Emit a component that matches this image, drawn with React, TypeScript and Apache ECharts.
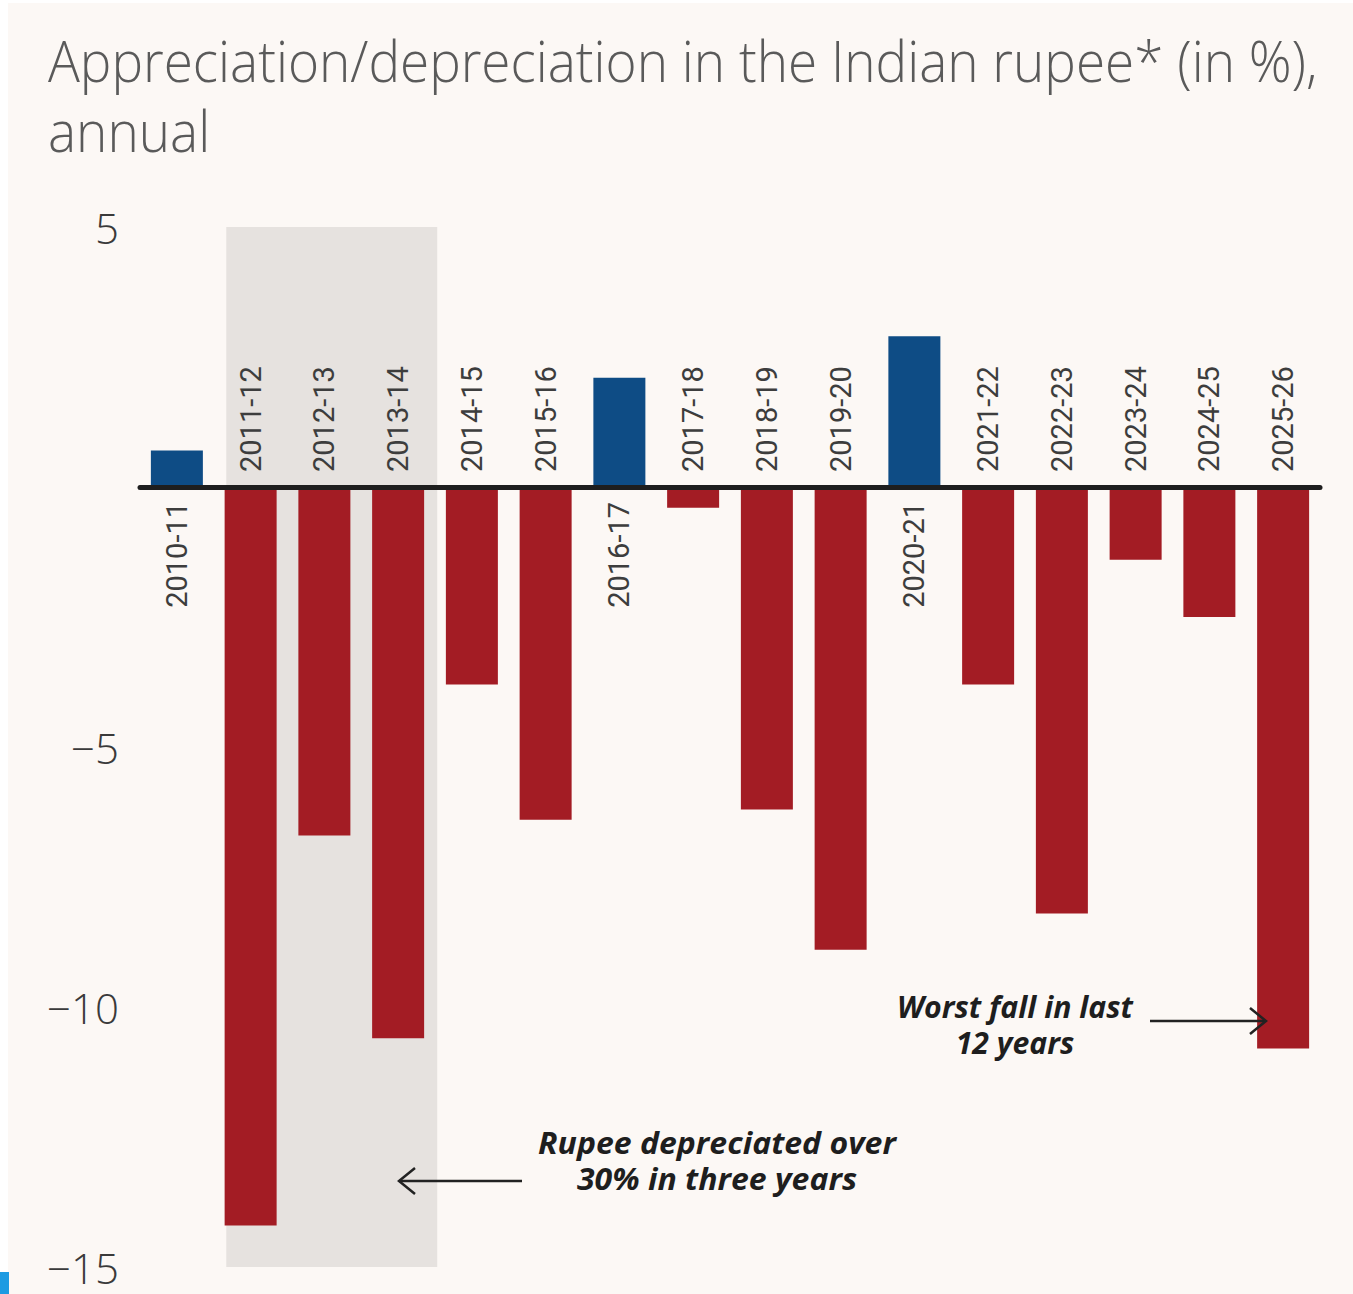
import React, { useEffect, useRef } from 'react';
import * as echarts from 'echarts';

const categories = [
  '2010-11', '2011-12', '2012-13', '2013-14', '2014-15', '2015-16', '2016-17', '2017-18',
  '2018-19', '2019-20', '2020-21', '2021-22', '2022-23', '2023-24', '2024-25', '2025-26',
];
const changePct = [0.7, -14.2, -6.7, -10.6, -3.8, -6.4, 2.1, -0.4, -6.2, -8.9, 2.9, -3.8, -8.2, -1.4, -2.5, -10.8];
const yMin = -15;
const yMax = 5;
const yInterval = 5;
const titleLines = ['Appreciation/depreciation in the Indian rupee* (in %),', 'annual'];
const noteWorst = ['Worst fall in last', '12 years'];
const noteRupee = ['Rupee depreciated over', '30% in three years'];
const shadedFrom = '2011-12';
const shadedTo = '2013-14';

const BLUE = '#0e4c85';
const RED = '#a31c24';
const BG = '#fcf8f5';

function textWidth(text: string, font: string): number {
  const ctx = document.createElement('canvas').getContext('2d');
  if (!ctx) return 1;
  ctx.font = font;
  return ctx.measureText(text).width || 1;
}

export default function App() {
  const ref = useRef<HTMLDivElement>(null);

  useEffect(() => {
    if (!ref.current) return;
    const chart = echarts.init(ref.current, null, { renderer: 'svg' });

    const labelFont = "Roboto, 'Open Sans', sans-serif";
    const data = changePct.map((v) => ({
      value: v,
      itemStyle: { color: v >= 0 ? BLUE : RED },
      label: v >= 0
        ? { position: 'bottom', align: 'right' }
        : { position: 'top', align: 'left' },
    }));

    chart.setOption({
      animation: false,
      backgroundColor: BG,
      grid: { left: 140, right: 33, top: 227, bottom: 27, containLabel: false, outerBoundsMode: 'none' },
      xAxis: {
        type: 'category',
        data: categories,
        z: 10,
        axisLine: { onZero: true, lineStyle: { color: '#1e1e1e', width: 5 } },
        axisTick: { show: false },
        axisLabel: { show: false },
        splitLine: { show: false },
      },
      yAxis: {
        type: 'value',
        min: yMin,
        max: yMax,
        interval: yInterval,
        axisLine: { show: false },
        axisTick: { show: false },
        splitLine: { show: false },
        axisLabel: {
          margin: 21,
          fontSize: 42,
          fontFamily: "'Open Sans', sans-serif",
          fontWeight: 300,
          color: '#3a3a3a',
          formatter: (v: number) => (v === 0 ? '' : v < 0 ? '\u2212' + Math.abs(v) : String(v)),
        },
      },
      series: [
        {
          type: 'bar',
          data,
          barWidth: 52,
          label: {
            show: true,
            formatter: '{b}',
            rotate: 90,
            verticalAlign: 'middle',
            distance: 15,
            fontSize: 29,
            fontFamily: labelFont,
            color: '#3d3d3d',
          },
        },
      ],
    });

    const px = (c: string) => chart.convertToPixel({ xAxisIndex: 0 }, c) as number;
    const py = (v: number) => chart.convertToPixel({ yAxisIndex: 0 }, v) as number;
    const step = px(categories[1]) - px(categories[0]);
    const bandL = px(shadedFrom) - 0.33 * step;
    const bandR = px(shadedTo) + 0.53 * step;
    const bandT = py(yMax);
    const bandB = py(yMin);

    const titleFont = "'Open Sans', sans-serif";
    const titleSize = 58;
    const titleSx = 1270 / textWidth(titleLines[0], `300 ${titleSize}px 'Open Sans'`);

    const noteSize = 31;
    const noteFontStr = `italic bold ${noteSize}px 'Open Sans'`;
    const worstSx = 236 / Math.max(...noteWorst.map((t) => textWidth(t, noteFontStr)));
    const rupeeSx = 358 / Math.max(...noteRupee.map((t) => textWidth(t, noteFontStr)));

    const noteStyle = {
      fontSize: noteSize,
      fontFamily: titleFont,
      fontWeight: 'bold',
      fontStyle: 'italic',
      fill: '#1e1e1e',
      align: 'center',
      verticalAlign: 'middle',
      lineHeight: 36,
    };

    chart.setOption({
      graphic: [
        { type: 'rect', z: -10, silent: true, shape: { x: 0, y: 0, width: 8, height: 1294 }, style: { fill: '#ffffff' } },
        { type: 'rect', z: -10, silent: true, shape: { x: 0, y: 0, width: 1353, height: 3 }, style: { fill: '#ffffff' } },
        { type: 'rect', z: -5, silent: true, shape: { x: bandL, y: bandT, width: bandR - bandL, height: bandB - bandT }, style: { fill: '#e6e2df' } },
        { type: 'rect', z: 20, silent: true, shape: { x: 0, y: 1272, width: 9, height: 22 }, style: { fill: '#1d9be2' } },
        {
          type: 'text', x: 48, y: 60, scaleX: titleSx, silent: true,
          style: { text: titleLines[0], fontSize: titleSize, fontFamily: titleFont, fontWeight: 300, fill: '#5a5a5a', align: 'left', verticalAlign: 'middle' },
        },
        {
          type: 'text', x: 48, y: 130, scaleX: titleSx, silent: true,
          style: { text: titleLines[1], fontSize: titleSize, fontFamily: titleFont, fontWeight: 300, fill: '#5a5a5a', align: 'left', verticalAlign: 'middle' },
        },
        { type: 'text', x: 1015, y: 1024, scaleX: worstSx, z: 20, silent: true, style: { ...noteStyle, text: noteWorst.join('\n') } },
        { type: 'text', x: 717, y: 1160, scaleX: rupeeSx, z: 20, silent: true, style: { ...noteStyle, text: noteRupee.join('\n') } },
        { type: 'line', z: 20, silent: true, shape: { x1: 1150, y1: 1021, x2: 1265, y2: 1021 }, style: { stroke: '#222', lineWidth: 2.5 } },
        { type: 'polyline', z: 20, silent: true, shape: { points: [[1250, 1008], [1266, 1021], [1250, 1034]] }, style: { stroke: '#222', lineWidth: 2.5, fill: 'none' } },
        { type: 'line', z: 20, silent: true, shape: { x1: 399, y1: 1181, x2: 522, y2: 1181 }, style: { stroke: '#222', lineWidth: 2.5 } },
        { type: 'polyline', z: 20, silent: true, shape: { points: [[415, 1168], [399, 1181], [415, 1194]] }, style: { stroke: '#222', lineWidth: 2.5, fill: 'none' } },
      ],
    });

    return () => chart.dispose();
  }, []);

  return (
    <div
      ref={ref}
      style={{ position: 'absolute', left: 0, top: 0, width: 1353, height: 1294 }}
    />
  );
}
